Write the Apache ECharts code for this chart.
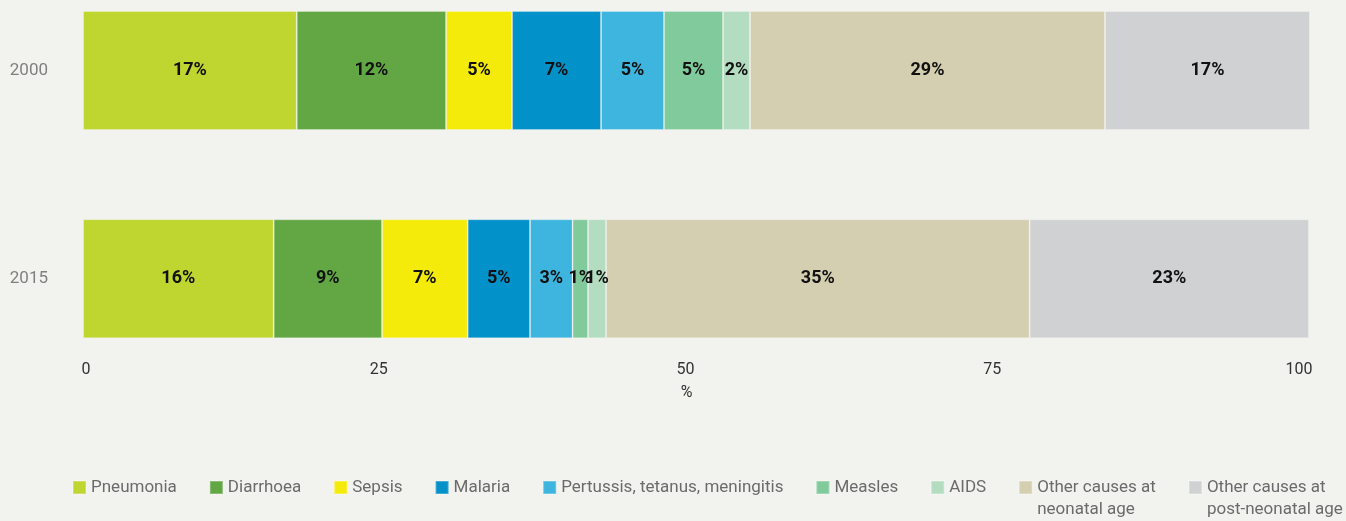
<!DOCTYPE html>
<html>
<head>
<meta charset="utf-8">
<title>Causes of death</title>
<script src="https://cdn.jsdelivr.net/npm/echarts@6/dist/echarts.min.js"></script>
<style>
  html, body { margin: 0; padding: 0; background: #f2f2ee; }
  #chart { width: 1346px; height: 521px; }
</style>
</head>
<body>
<div id="chart"></div>
<script>
// Data (share of deaths, %)
const years = ['2000', '2015'];
const causes = [
  'Pneumonia', 'Diarrhoea', 'Sepsis', 'Malaria', 'Pertussis, tetanus, meningitis',
  'Measles', 'AIDS', 'Other causes at neonatal age', 'Other causes at post-neonatal age'
];
const pneumonia = [17.42, 15.54];
const diarrhoea = [12.17, 8.83];
const sepsis = [5.38, 6.98];
const malaria = [7.25, 5.08];
const pertussis = [5.13, 3.47];
const measles = [4.81, 1.26];
const aids = [2.2, 1.47];
const otherNeonatal = [28.93, 34.52];
const otherPostNeonatal = [16.71, 22.77];
const xTicks = [0, 25, 50, 75, 100];

const seriesValues = [pneumonia, diarrhoea, sepsis, malaria, pertussis, measles, aids, otherNeonatal, otherPostNeonatal];
const colors = ['#bed62f', '#63a744', '#f5eb0a', '#0391c9', '#3db5df', '#80ca9c', '#b3dcc0', '#d4cfb0', '#d0d1d3'];
// wrapped legend texts; the leading empty line keeps the first line level with the marker
const legendLabels = {
  'Other causes at neonatal age': '\nOther causes at\nneonatal age',
  'Other causes at post-neonatal age': '\nOther causes at\npost-neonatal age'
};

const FONT = "Roboto, 'Liberation Sans', sans-serif";
const LH = 22; // legend line height

const chart = echarts.init(document.getElementById('chart'));

chart.setOption({
  backgroundColor: '#f2f2ee',
  animation: false,
  color: colors,
  grid: { left: 83, right: 36, top: 70.5, height: 208.3, containLabel: false },
  legend: {
    left: 72,
    top: 481 - (1.5 * LH - 6.5),
    padding: 0,
    itemWidth: 13,
    itemHeight: 13,
    itemGap: 32,
    icon: 'rect',
    formatter: name => legendLabels[name] || name,
    textStyle: { fontFamily: FONT, fontSize: 17, color: '#6b6b6b', lineHeight: LH },
    data: causes
  },
  xAxis: {
    type: 'value',
    min: xTicks[0],
    max: xTicks[xTicks.length - 1],
    interval: 25,
    name: '%',
    nameLocation: 'middle',
    nameGap: 106,
    nameTextStyle: { fontFamily: FONT, fontSize: 16, color: '#333', padding: [0, 20, 0, 0] },
    axisLine: { show: false },
    axisTick: { show: false },
    splitLine: { show: false },
    axisLabel: {
      margin: 83,
      fontFamily: FONT,
      fontSize: 16,
      color: '#333',
      formatter: v => v === 0 ? '{first|' + v + '}' : '{rest|' + v + '}',
      rich: {
        first: { fontFamily: FONT, fontSize: 16, color: '#333', padding: [0, 0, 0, 6] },
        rest: { fontFamily: FONT, fontSize: 16, color: '#333', padding: [0, 22, 0, 0] }
      }
    }
  },
  yAxis: {
    type: 'category',
    data: years,
    inverse: true,
    boundaryGap: false,
    axisLine: { show: false },
    axisTick: { show: false },
    splitLine: { show: false },
    axisLabel: { margin: 35, fontFamily: FONT, fontSize: 17, color: '#808080', padding: [3, 0, 0, 0] }
  },
  series: causes.map((name, i) => ({
    name: name,
    type: 'bar',
    stack: 'total',
    barWidth: 119,
    data: seriesValues[i],
    itemStyle: { color: colors[i], borderColor: 'rgba(255,255,255,0.25)', borderWidth: 1 },
    label: {
      show: true,
      position: 'inside',
      fontFamily: FONT,
      fontSize: 18,
      fontWeight: 'bold',
      color: '#111',
      formatter: p => Math.round(p.value) + '%'
    }
  }))
});
</script>
</body>
</html>
